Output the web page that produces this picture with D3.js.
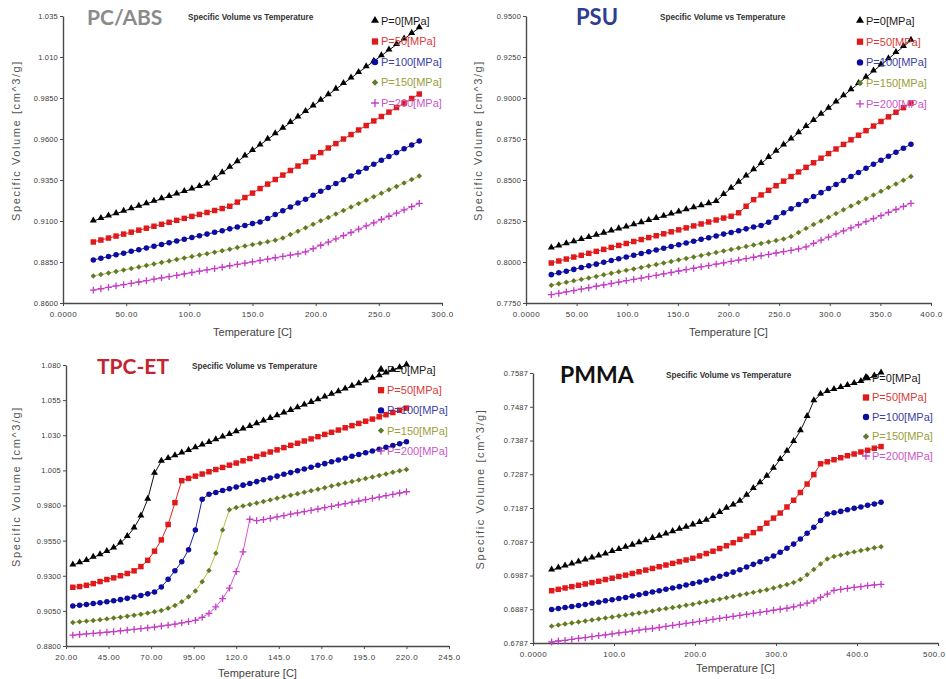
<!DOCTYPE html>
<html>
<head>
<meta charset="utf-8">
<script src="https://cdn.jsdelivr.net/npm/d3@7"></script>
<style>
  body { margin: 0; background: #fff; }
  svg { display: block; }
</style>
</head>
<body>
<svg id="chart" width="946" height="679"></svg>
<script>
// ---------- shared labels ----------
const pressureLabels = ["P=0[MPa]", "P=50[MPa]", "P=100[MPa]", "P=150[MPa]", "P=200[MPa]"];
const chartSubtitle = "Specific Volume vs Temperature";
const xAxisTitle = "Temperature [C]";
const yAxisTitle = "Specific Volume [cm^3/g]";

// ---------- PC/ABS ----------
const pcabsTemp = [24,30,36,42,48,54,60,66,72,78,84,90,96,102,108,114,120,126,132,138,144,150,156,162,168,174,180,186,192,198,204,210,216,222,228,234,240,246,252,258,264,270,276,282];
const pcabsP0 = [0.9100,0.9115,0.9130,0.9145,0.9160,0.9175,0.9190,0.9205,0.9220,0.9235,0.9250,0.9265,0.9280,0.9295,0.9310,0.9326,0.9360,0.9394,0.9428,0.9462,0.9496,0.9530,0.9564,0.9598,0.9632,0.9666,0.9700,0.9734,0.9768,0.9802,0.9836,0.9870,0.9904,0.9938,0.9972,1.0006,1.0040,1.0074,1.0108,1.0142,1.0176,1.0210,1.0244,1.0278];
const pcabsP50 = [0.8972,0.8984,0.8996,0.9008,0.9020,0.9032,0.9044,0.9056,0.9068,0.9080,0.9092,0.9104,0.9116,0.9128,0.9140,0.9152,0.9164,0.9176,0.9190,0.9215,0.9243,0.9270,0.9298,0.9325,0.9353,0.9380,0.9408,0.9435,0.9462,0.9490,0.9517,0.9545,0.9572,0.9600,0.9627,0.9655,0.9682,0.9710,0.9737,0.9764,0.9792,0.9819,0.9847,0.9874];
const pcabsP100 = [0.8862,0.8873,0.8883,0.8894,0.8904,0.8915,0.8925,0.8936,0.8946,0.8957,0.8968,0.8978,0.8989,0.8999,0.9010,0.9020,0.9031,0.9041,0.9052,0.9063,0.9073,0.9084,0.9094,0.9115,0.9139,0.9163,0.9186,0.9210,0.9233,0.9257,0.9281,0.9304,0.9328,0.9351,0.9375,0.9399,0.9422,0.9446,0.9470,0.9493,0.9517,0.9540,0.9564,0.9588];
const pcabsP150 = [0.8765,0.8774,0.8783,0.8792,0.8801,0.8810,0.8819,0.8829,0.8838,0.8847,0.8856,0.8865,0.8874,0.8883,0.8892,0.8901,0.8910,0.8919,0.8928,0.8938,0.8947,0.8956,0.8965,0.8974,0.8983,0.8996,0.9017,0.9038,0.9059,0.9080,0.9101,0.9122,0.9143,0.9164,0.9185,0.9206,0.9227,0.9248,0.9269,0.9290,0.9311,0.9332,0.9353,0.9374];
const pcabsP200 = [0.8679,0.8687,0.8695,0.8704,0.8712,0.8720,0.8728,0.8736,0.8745,0.8753,0.8761,0.8769,0.8777,0.8786,0.8794,0.8802,0.8810,0.8818,0.8827,0.8835,0.8843,0.8851,0.8859,0.8868,0.8876,0.8884,0.8892,0.8900,0.8912,0.8932,0.8952,0.8971,0.8991,0.9011,0.9030,0.9050,0.9070,0.9089,0.9109,0.9129,0.9148,0.9168,0.9188,0.9207];
const pcabsXTicks = ["0.0000","50.00","100.0","150.0","200.0","250.0","300.0"];
const pcabsYTicks = ["0.8600","0.8850","0.9100","0.9350","0.9600","0.9850","1.010","1.035"];

// ---------- PSU ----------
const psuTemp = [25,32.4,39.8,47.2,54.6,62,69.4,76.8,84.2,91.6,99,106.4,113.8,121.2,128.6,136,143.4,150.8,158.2,165.6,173,180.4,187.8,195.2,202.6,210,217.4,224.8,232.2,239.6,247,254.4,261.8,269.2,276.6,284,291.4,298.8,306.2,313.6,321,328.4,335.8,343.2,350.6,358,365.4,372.8,380.2];
const psuP0 = [0.8085,0.8098,0.8111,0.8124,0.8137,0.8150,0.8163,0.8176,0.8189,0.8202,0.8214,0.8227,0.8240,0.8253,0.8266,0.8279,0.8292,0.8305,0.8318,0.8331,0.8343,0.8356,0.8369,0.8412,0.8450,0.8487,0.8525,0.8562,0.8600,0.8638,0.8675,0.8713,0.8750,0.8788,0.8826,0.8863,0.8901,0.8938,0.8976,0.9014,0.9051,0.9089,0.9126,0.9164,0.9202,0.9239,0.9277,0.9314,0.9352];
const psuP50 = [0.7994,0.8006,0.8018,0.8030,0.8041,0.8053,0.8065,0.8077,0.8089,0.8101,0.8113,0.8125,0.8137,0.8149,0.8160,0.8172,0.8184,0.8196,0.8208,0.8220,0.8232,0.8244,0.8256,0.8268,0.8279,0.8300,0.8340,0.8380,0.8409,0.8437,0.8465,0.8493,0.8521,0.8549,0.8577,0.8605,0.8633,0.8661,0.8689,0.8717,0.8745,0.8773,0.8801,0.8829,0.8857,0.8885,0.8913,0.8941,0.8969];
const psuP100 = [0.7923,0.7934,0.7944,0.7955,0.7966,0.7977,0.7987,0.7998,0.8009,0.8020,0.8030,0.8041,0.8052,0.8062,0.8073,0.8084,0.8095,0.8105,0.8116,0.8127,0.8138,0.8148,0.8159,0.8170,0.8180,0.8191,0.8202,0.8213,0.8223,0.8242,0.8272,0.8300,0.8325,0.8350,0.8374,0.8399,0.8423,0.8448,0.8473,0.8497,0.8522,0.8546,0.8571,0.8596,0.8620,0.8645,0.8669,0.8694,0.8718];
const psuP150 = [0.7858,0.7867,0.7876,0.7885,0.7894,0.7903,0.7912,0.7922,0.7931,0.7940,0.7949,0.7958,0.7967,0.7976,0.7985,0.7994,0.8003,0.8013,0.8022,0.8031,0.8040,0.8049,0.8058,0.8067,0.8076,0.8085,0.8094,0.8104,0.8113,0.8122,0.8131,0.8140,0.8155,0.8180,0.8205,0.8228,0.8250,0.8273,0.8295,0.8318,0.8341,0.8363,0.8386,0.8408,0.8431,0.8454,0.8476,0.8499,0.8521];
const psuP200 = [0.7801,0.7809,0.7818,0.7826,0.7835,0.7843,0.7852,0.7860,0.7869,0.7877,0.7886,0.7894,0.7902,0.7911,0.7919,0.7928,0.7936,0.7945,0.7953,0.7962,0.7970,0.7978,0.7987,0.7995,0.8004,0.8012,0.8021,0.8029,0.8038,0.8046,0.8055,0.8063,0.8071,0.8080,0.8092,0.8113,0.8133,0.8152,0.8171,0.8190,0.8208,0.8227,0.8246,0.8264,0.8283,0.8302,0.8320,0.8339,0.8358];
const psuXTicks = ["0.0000","50.00","100.0","150.0","200.0","250.0","300.0","350.0","400.0"];
const psuYTicks = ["0.7750","0.8000","0.8250","0.8500","0.8750","0.9000","0.9250","0.9500"];

// ---------- TPC-ET ----------
const tpcTemp = [24,28,32,36,40,44,48,52,56,60,64,68,72,76,80,84,88,92,96,100,104,108,112,116,120,124,128,132,136,140,144,148,152,156,160,164,168,172,176,180,184,188,192,196,200,204,208,212,216,220];
const tpcP0 = [0.9377,0.9392,0.9409,0.9431,0.9450,0.9473,0.9497,0.9533,0.9580,0.9640,0.9725,0.9845,1.0030,1.0115,1.0135,1.0154,1.0173,1.0192,1.0211,1.0230,1.0249,1.0268,1.0287,1.0306,1.0325,1.0344,1.0363,1.0382,1.0401,1.0420,1.0439,1.0458,1.0477,1.0496,1.0515,1.0534,1.0553,1.0572,1.0591,1.0610,1.0629,1.0648,1.0667,1.0686,1.0705,1.0724,1.0743,1.0762,1.0781,1.0800];
const tpcP50 = [0.9218,0.9223,0.9232,0.9244,0.9259,0.9273,0.9285,0.9300,0.9316,0.9335,0.9365,0.9410,0.9475,0.9555,0.9665,0.9820,0.9977,0.9993,1.0009,1.0024,1.0040,1.0056,1.0071,1.0087,1.0102,1.0118,1.0134,1.0149,1.0165,1.0181,1.0196,1.0212,1.0228,1.0243,1.0259,1.0274,1.0290,1.0306,1.0321,1.0337,1.0353,1.0368,1.0384,1.0400,1.0415,1.0431,1.0446,1.0462,1.0478,1.0493];
const tpcP100 = [0.9085,0.9090,0.9096,0.9102,0.9108,0.9115,0.9122,0.9130,0.9139,0.9149,0.9160,0.9171,0.9185,0.9220,0.9275,0.9335,0.9400,0.9485,0.9625,0.9845,0.9880,0.9893,0.9906,0.9919,0.9932,0.9945,0.9957,0.9970,0.9983,0.9996,1.0009,1.0022,1.0034,1.0047,1.0060,1.0073,1.0086,1.0098,1.0111,1.0124,1.0137,1.0150,1.0163,1.0175,1.0188,1.0201,1.0214,1.0227,1.0240,1.0253];
const tpcP150 = [0.8968,0.8972,0.8977,0.8982,0.8987,0.8993,0.8999,0.9005,0.9012,0.9019,0.9026,0.9034,0.9043,0.9053,0.9068,0.9088,0.9115,0.9150,0.9192,0.9258,0.9338,0.9460,0.9625,0.9770,0.9785,0.9796,0.9807,0.9818,0.9829,0.9840,0.9851,0.9862,0.9873,0.9883,0.9894,0.9905,0.9916,0.9927,0.9938,0.9949,0.9960,0.9971,0.9982,0.9992,1.0003,1.0014,1.0025,1.0036,1.0047,1.0057];
const tpcP200 = [0.8878,0.8882,0.8886,0.8890,0.8894,0.8898,0.8903,0.8908,0.8913,0.8918,0.8923,0.8929,0.8935,0.8941,0.8948,0.8955,0.8964,0.8973,0.8983,0.9004,0.9032,0.9078,0.9137,0.9212,0.9330,0.9470,0.9702,0.9692,0.9700,0.9709,0.9719,0.9728,0.9738,0.9747,0.9757,0.9766,0.9775,0.9785,0.9794,0.9804,0.9813,0.9823,0.9832,0.9842,0.9851,0.9860,0.9870,0.9879,0.9889,0.9898];
const tpcXTicks = ["20.00","45.00","70.00","95.00","120.0","145.0","170.0","195.0","220.0","245.0"];
const tpcYTicks = ["0.8800","0.9050","0.9300","0.9550","0.9800","1.005","1.030","1.055","1.080"];

// ---------- PMMA ----------
const pmmaTemp = [23,31.3,39.6,47.9,56.2,64.5,72.8,81.1,89.4,97.7,106,114.3,122.6,130.9,139.2,147.5,155.8,164.1,172.4,180.7,189,197.3,205.6,213.9,222.2,230.5,238.8,247.1,255.4,263.7,272,280.3,288.6,296.9,305.2,313.5,321.8,330.1,338.4,346.7,355,363.3,371.6,379.9,388.2,396.5,404.8,413.1,421.4,429.7];
const pmmaP0 = [0.7003,0.7009,0.7015,0.7021,0.7027,0.7033,0.7039,0.7045,0.7051,0.7058,0.7064,0.7071,0.7077,0.7084,0.7090,0.7097,0.7103,0.7110,0.7117,0.7124,0.7130,0.7137,0.7144,0.7151,0.7162,0.7174,0.7186,0.7196,0.7207,0.7225,0.7245,0.7262,0.7281,0.7305,0.7331,0.7355,0.7384,0.7416,0.7458,0.7505,0.7524,0.7532,0.7538,0.7544,0.7550,0.7556,0.7562,0.7570,0.7578,0.7587];
const pmmaP50 = [0.6942,0.6946,0.6950,0.6954,0.6958,0.6962,0.6966,0.6970,0.6975,0.6979,0.6984,0.6988,0.6993,0.6998,0.7003,0.7008,0.7013,0.7018,0.7023,0.7028,0.7033,0.7038,0.7045,0.7052,0.7059,0.7067,0.7075,0.7084,0.7094,0.7104,0.7114,0.7126,0.7142,0.7157,0.7172,0.7190,0.7210,0.7233,0.7258,0.7286,0.7318,0.7324,0.7330,0.7336,0.7342,0.7347,0.7353,0.7358,0.7364,0.7369];
const pmmaP100 = [0.6886,0.6889,0.6892,0.6895,0.6898,0.6901,0.6905,0.6908,0.6912,0.6915,0.6919,0.6922,0.6926,0.6930,0.6934,0.6938,0.6942,0.6946,0.6950,0.6954,0.6959,0.6963,0.6968,0.6973,0.6979,0.6985,0.6991,0.6997,0.7004,0.7012,0.7020,0.7028,0.7036,0.7045,0.7056,0.7068,0.7080,0.7095,0.7112,0.7130,0.7150,0.7169,0.7173,0.7177,0.7182,0.7186,0.7190,0.7195,0.7199,0.7204];
const pmmaP150 = [0.6837,0.6840,0.6843,0.6846,0.6849,0.6852,0.6855,0.6858,0.6861,0.6864,0.6867,0.6870,0.6873,0.6876,0.6879,0.6882,0.6886,0.6889,0.6892,0.6895,0.6899,0.6902,0.6906,0.6909,0.6913,0.6917,0.6921,0.6925,0.6929,0.6933,0.6937,0.6941,0.6945,0.6950,0.6955,0.6960,0.6966,0.6975,0.6989,0.7005,0.7021,0.7036,0.7043,0.7048,0.7053,0.7057,0.7061,0.7065,0.7069,0.7072];
const pmmaP200 = [0.6790,0.6793,0.6795,0.6798,0.6801,0.6803,0.6806,0.6809,0.6811,0.6814,0.6817,0.6819,0.6822,0.6825,0.6828,0.6830,0.6833,0.6836,0.6839,0.6842,0.6845,0.6848,0.6851,0.6854,0.6857,0.6860,0.6863,0.6866,0.6869,0.6872,0.6875,0.6878,0.6881,0.6884,0.6887,0.6890,0.6894,0.6899,0.6905,0.6912,0.6922,0.6932,0.6943,0.6946,0.6949,0.6952,0.6954,0.6957,0.6959,0.6961];
const pmmaXTicks = ["0.0000","100.0","200.0","300.0","400.0","500.0"];
const pmmaYTicks = ["0.6787","0.6887","0.6987","0.7087","0.7187","0.7287","0.7387","0.7487","0.7587"];

// ---------- styling per pressure level ----------
const seriesStyle = [
  { shape: "triangle", line: "#111111", mark: "#000000", text: "#1a1a1a" },
  { shape: "square",   line: "#e02424", mark: "#e01a1a", text: "#d83a3a" },
  { shape: "circle",   line: "#1a1aa8", mark: "#0c0ca0", text: "#3a3fa8" },
  { shape: "diamond",  line: "#bdbd3c", mark: "#5f7a2c", text: "#9aa03a" },
  { shape: "plus",     line: "#d456d4", mark: "#c43cc4", text: "#c858c8" }
];

const panels = [
  { title: "PC/ABS", titleColor: "#8a8a8a", titleSize: 21, temps: pcabsTemp,
    series: [pcabsP0, pcabsP50, pcabsP100, pcabsP150, pcabsP200],
    xTicks: pcabsXTicks, yTicks: pcabsYTicks,
    left: 63, right: 442, top: 16, bottom: 303,
    titleX: 87, titleY: 25, subX: 188, subY: 20,
    legX: 375, legY: 21, legStep: 20.5, yLabX: 17, xLabY: 336 },
  { title: "PSU", titleColor: "#2f3d8e", titleSize: 22, temps: psuTemp,
    series: [psuP0, psuP50, psuP100, psuP150, psuP200],
    xTicks: psuXTicks, yTicks: psuYTicks,
    left: 526, right: 931, top: 16, bottom: 303,
    titleX: 576, titleY: 25, subX: 660, subY: 20,
    legX: 860, legY: 21, legStep: 20.7, yLabX: 479, xLabY: 336 },
  { title: "TPC-ET", titleColor: "#c42430", titleSize: 21, temps: tpcTemp,
    series: [tpcP0, tpcP50, tpcP100, tpcP150, tpcP200],
    xTicks: tpcXTicks, yTicks: tpcYTicks,
    left: 66, right: 449, top: 365, bottom: 646,
    titleX: 97, titleY: 374, subX: 192, subY: 369,
    legX: 381, legY: 370, legStep: 20.2, yLabX: 17, xLabY: 677 },
  { title: "PMMA", titleColor: "#111111", titleSize: 23, temps: pmmaTemp,
    series: [pmmaP0, pmmaP50, pmmaP100, pmmaP150, pmmaP200],
    xTicks: pmmaXTicks, yTicks: pmmaYTicks,
    left: 533, right: 938, top: 373, bottom: 643,
    titleX: 560, titleY: 383, subX: 666, subY: 378,
    legX: 866, legY: 378, legStep: 19.5, yLabX: 481, xLabY: 672 }
];

const svg = d3.select("#chart");
const sansFont = "Arial, 'Liberation Sans', Helvetica, sans-serif";

// draws a point marker of the given shape
function drawMarker(sel, shape, cx, cy, color, scale) {
  const s = scale || 1;
  if (shape === "plus") {
    const h = 3.4 * s;
    sel.append("path")
      .attr("d", `M${cx - h},${cy}H${cx + h}M${cx},${cy - h}V${cy + h}`)
      .attr("stroke", color).attr("stroke-width", 1.3).attr("fill", "none");
    return;
  }
  const types = { triangle: d3.symbolTriangle, square: d3.symbolSquare, circle: d3.symbolCircle, diamond: d3.symbolSquare };
  const sizes = { triangle: 21, square: 30, circle: 24, diamond: 15 };
  const dy = shape === "triangle" ? -0.5 : 0;
  const rot = shape === "diamond" ? " rotate(45)" : "";
  sel.append("path")
    .attr("d", d3.symbol().type(types[shape]).size(sizes[shape] * s * s)())
    .attr("transform", `translate(${cx},${cy + dy})${rot}`)
    .attr("fill", color);
}

panels.forEach(p => {
  const g = svg.append("g");
  const xVals = p.xTicks.map(Number);
  const yVals = p.yTicks.map(Number);
  const x = d3.scaleLinear().domain([xVals[0], xVals[xVals.length - 1]]).range([p.left, p.right]);
  const y = d3.scaleLinear().domain([yVals[0], yVals[yVals.length - 1]]).range([p.bottom, p.top]);

  // axes
  const xAxis = g.append("g")
    .attr("transform", `translate(0,${p.bottom})`)
    .call(d3.axisBottom(x).tickValues(xVals).tickFormat((d, i) => p.xTicks[i]).tickSize(3).tickSizeOuter(0));
  const yAxis = g.append("g")
    .attr("transform", `translate(${p.left},0)`)
    .call(d3.axisLeft(y).tickValues(yVals).tickFormat((d, i) => p.yTicks[i]).tickSize(3).tickSizeOuter(0));
  [xAxis, yAxis].forEach(a => {
    a.select(".domain").attr("stroke", "#4a4a4a").attr("stroke-width", 1.4);
    a.selectAll(".tick line").attr("stroke", "#4a4a4a").attr("stroke-width", 1);
    a.selectAll(".tick text").attr("fill", "#3a3a3a").attr("font-family", sansFont);
  });
  xAxis.selectAll(".tick text").attr("font-size", 8).attr("letter-spacing", 0.5).attr("dy", "0.95em");
  yAxis.selectAll(".tick text").attr("font-size", 7.5).attr("letter-spacing", 0.2).attr("x", -5);
  // keep the last x label inside the page edge
  xAxis.selectAll(".tick text").filter((d, i) => i === xVals.length - 1 && p.right > 935)
    .attr("text-anchor", "end").attr("x", 945 - p.right);

  // axis titles
  g.append("text")
    .attr("x", (p.left + p.right) / 2).attr("y", p.xLabY)
    .attr("text-anchor", "middle").attr("font-family", sansFont)
    .attr("font-size", 11).attr("fill", "#444").text(xAxisTitle);
  g.append("text")
    .attr("transform", `translate(${p.yLabX},${(p.top + p.bottom) / 2 - 19}) rotate(-90)`)
    .attr("text-anchor", "middle").attr("dominant-baseline", "middle")
    .attr("font-family", sansFont).attr("font-size", 11).attr("letter-spacing", 1.6)
    .attr("fill", "#555").text(yAxisTitle);

  // panel title and subtitle
  g.append("text")
    .attr("x", p.titleX).attr("y", p.titleY)
    .attr("font-family", "Lato, 'Open Sans', sans-serif").attr("font-weight", "bold")
    .attr("font-size", p.titleSize).attr("fill", p.titleColor).text(p.title);
  g.append("text")
    .attr("x", p.subX).attr("y", p.subY)
    .attr("font-family", sansFont).attr("font-weight", "bold")
    .attr("font-size", 8.2).attr("fill", "#333").text(chartSubtitle);

  // series: connecting line plus markers
  const line = d3.line().x(d => x(d[0])).y(d => y(d[1]));
  p.series.forEach((vals, si) => {
    const st = seriesStyle[si];
    const pts = p.temps.map((t, i) => [t, vals[i]]);
    const sg = g.append("g");
    sg.append("path").attr("d", line(pts))
      .attr("fill", "none").attr("stroke", st.line).attr("stroke-width", 1);
    pts.forEach(d => drawMarker(sg, st.shape, x(d[0]), y(d[1]), st.mark, 1));
  });

  // legend
  pressureLabels.forEach((lab, i) => {
    const st = seriesStyle[i];
    const ly = p.legY + i * p.legStep;
    drawMarker(g, st.shape, p.legX, ly, st.mark, 1.15);
    g.append("text")
      .attr("x", p.legX + 6).attr("y", ly).attr("dy", "0.36em")
      .attr("font-family", sansFont).attr("font-size", 11)
      .attr("fill", st.text).text(lab);
  });
});
</script>
</body>
</html>
